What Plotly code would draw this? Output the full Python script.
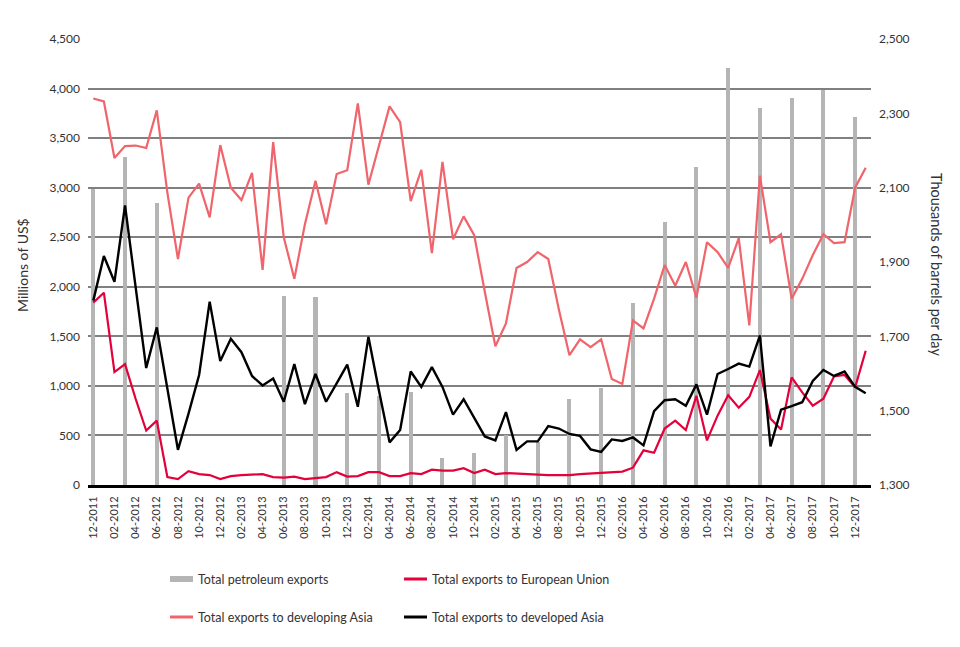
import pandas as pd
import plotly.graph_objects as go

# ---- categories (monthly, 12-2011 .. 01-2018) ----
months = pd.date_range("2011-12-01", "2018-01-01", freq="MS").strftime("%m-%Y").tolist()
tick_labels = months[0:73:2]

# ---- series (Millions of US$) ----
dev_asia = [3900, 3870, 3300, 3420, 3425, 3400, 3780, 2950, 2280, 2900,
            3040, 2700, 3430, 3000, 2875, 3150, 2170, 3460, 2500, 2080,
            2630, 3070, 2630, 3137, 3176, 3850, 3030, 3420, 3820, 3660,
            2865, 3180, 2340, 3260, 2480, 2710, 2520, 1950, 1400, 1630,
            2190, 2250, 2350, 2280, 1770, 1310, 1470, 1390, 1470, 1070,
            1020, 1660, 1580, 1880, 2220, 2010, 2250, 1890, 2450, 2350,
            2190, 2490, 1610, 3120, 2450, 2530, 1880, 2080, 2320, 2530,
            2440, 2450, 3000, 3200]

eu = [1840, 1940, 1140, 1220, 870, 550, 650, 80, 60, 140,
      110, 100, 60, 90, 100, 103, 110, 80, 75, 85,
      60, 70, 80, 130, 85, 90, 130, 130, 90, 90,
      120, 110, 155, 145, 145, 170, 120, 155, 110, 120,
      115, 110, 100, 100, 100, 100, 110, 115, 125, 130,
      135, 175, 350, 325, 570, 650, 555, 900, 450, 700,
      905, 780, 890, 1160, 670, 560, 1085, 935, 800, 870,
      1095, 1110, 985, 1355]

developed_asia = [1860, 2310, 2050, 2820, 2000, 1180, 1590, 970, 355, 720,
                  1110, 1850, 1250, 1475, 1340, 1100, 1005, 1075, 840, 1220,
                  815, 1120, 840, 1025, 1215, 790, 1495, 950, 430, 555,
                  1145, 990, 1190, 990, 710, 865, 675, 490, 450, 735,
                  355, 440, 440, 595, 570, 515, 495, 360, 335, 460,
                  445, 480, 400, 745, 855, 865, 800, 1015, 710, 1120,
                  1170, 1225, 1195, 1510, 390, 760, 795, 835, 1050, 1160,
                  1100, 1145, 990, 925]

# ---- bars (Thousands of barrels per day, quarterly) ----
bar_months = ["12-2011", "03-2012", "06-2012", "09-2012", "12-2012", "03-2013",
              "06-2013", "09-2013", "12-2013", "03-2014", "06-2014", "09-2014",
              "12-2014", "03-2015", "06-2015", "09-2015", "12-2015", "03-2016",
              "06-2016", "09-2016", "12-2016", "03-2017", "06-2017", "09-2017",
              "12-2017"]
bar_values = [2096, 2183, 2059, None, None, None,
              1809, 1806, 1548, 1540, 1551, 1373,
              1385, 1435, 1417, 1531, 1561, 1790,
              2008, 2156, 2422, 2314, 2341, 2363,
              2290]

left_ticks = list(range(0, 4501, 500))
right_ticks = list(range(1300, 2501, 200))

FONT = "Lato"
TXT = "#333333"
C_BAR = "#b5b5b5"
C_EU = "#e4003b"
C_DEV = "#f0646b"
C_BLK = "#000000"

fig = go.Figure()
fig.add_trace(go.Bar(x=bar_months, y=bar_values, marker=dict(color=C_BAR, line=dict(width=0)),
                     width=0.38, yaxis="y", name="Total petroleum exports"))
fig.add_trace(go.Scatter(x=months, y=dev_asia, mode="lines", line=dict(color=C_DEV, width=2.2),
                         yaxis="y2", name="Total exports to developing Asia"))
fig.add_trace(go.Scatter(x=months, y=eu, mode="lines", line=dict(color=C_EU, width=2.2),
                         yaxis="y2", name="Total exports to European Union"))
fig.add_trace(go.Scatter(x=months, y=developed_asia, mode="lines", line=dict(color=C_BLK, width=2.4),
                         yaxis="y2", name="Total exports to developed Asia"))

# page has an 8px body margin, so the figure is shifted accordingly
fig.update_layout(
    width=952, height=639,
    margin=dict(l=80, r=89, t=31, b=162),
    paper_bgcolor="white", plot_bgcolor="white",
    showlegend=False,
    font=dict(family=FONT, color=TXT, size=12),
    xaxis=dict(type="category", categoryorder="array", categoryarray=months,
               range=[-0.5, 73.5], tickmode="array", tickvals=tick_labels, ticktext=tick_labels,
               tickangle=-90, tickfont=dict(size=11, color=TXT), showgrid=False,
               showline=True, linecolor="black", linewidth=3, ticks="", ticklabelstandoff=4),
    yaxis=dict(range=[1300, 2500], side="right", tickvals=right_ticks, tickformat=",",
               showgrid=False, zeroline=False, showline=False, ticks="",
               tickfont=dict(size=12, color=TXT), ticklabelstandoff=7),
    yaxis2=dict(range=[0, 4500], side="left", overlaying="y", tickvals=left_ticks, tickformat=",",
                showgrid=True, gridcolor="#808080", gridwidth=2, zeroline=False, showline=False,
                ticks="", tickfont=dict(size=12, color=TXT), ticklabelstandoff=7),
    bargap=0,
)

def px_x(px):
    return (px - 88) / 783.0

def px_y(py):
    return (485 - py) / 446.0

annotations = [
    dict(text="Millions of US$", x=px_x(22), y=px_y(265), xref="paper", yref="paper",
         textangle=-90, showarrow=False, font=dict(size=14, color=TXT), xanchor="center", yanchor="middle"),
    dict(text="Thousands of barrels per day", x=px_x(937), y=px_y(264), xref="paper", yref="paper",
         textangle=90, showarrow=False, font=dict(size=14.5, color=TXT), xanchor="center", yanchor="middle"),
]
shapes = []
legend_items = [
    ("Total petroleum exports", C_BAR, "bar", 170, 579),
    ("Total exports to European Union", C_EU, "line", 404, 579),
    ("Total exports to developing Asia", C_DEV, "line", 170, 617),
    ("Total exports to developed Asia", C_BLK, "line", 404, 617),
]
for label, col, kind, sx, sy in legend_items:
    if kind == "bar":
        shapes.append(dict(type="rect", xref="paper", yref="paper", x0=px_x(sx), x1=px_x(sx + 23),
                           y0=px_y(sy + 3), y1=px_y(sy - 3), fillcolor=col, line=dict(width=0)))
    else:
        shapes.append(dict(type="line", xref="paper", yref="paper", x0=px_x(sx), x1=px_x(sx + 23),
                           y0=px_y(sy), y1=px_y(sy), line=dict(color=col, width=3)))
    annotations.append(dict(text=label, x=px_x(sx + 26), y=px_y(sy), xref="paper", yref="paper",
                            showarrow=False, xanchor="left", yanchor="middle",
                            font=dict(size=12.5, color=TXT)))

fig.update_layout(annotations=annotations, shapes=shapes)
fig.write_html("out.html")
